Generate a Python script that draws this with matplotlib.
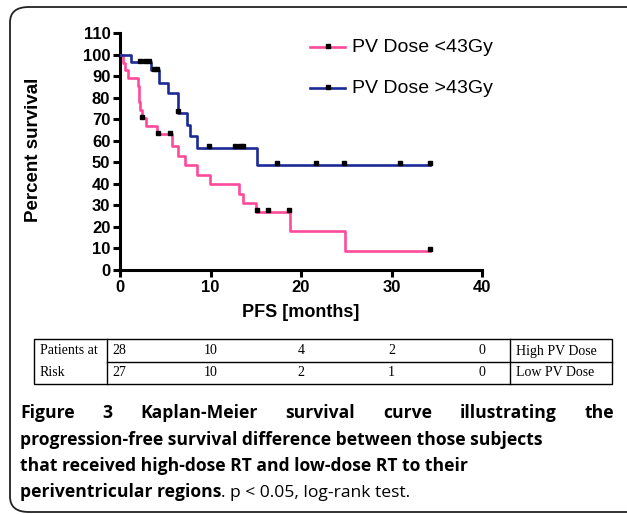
import matplotlib
matplotlib.use("Agg")
import matplotlib.pyplot as plt
from matplotlib.lines import Line2D
from matplotlib.patches import FancyBboxPatch, Rectangle

W, H = 627, 514

# low PV dose (<43Gy) curve
low_t = [0, 0.35, 0.5, 0.85, 1.95, 2.05, 2.15, 2.25, 2.4, 2.87, 4.05, 5.7, 6.45, 7.2, 8.5, 9.95, 13.15, 13.6, 15.05, 18.8, 24.9, 34.3]
low_s = [100, 96.3, 92.6, 88.9, 85.2, 81.5, 77.8, 74.1, 70.4, 66.7, 63.0, 57.5, 53.0, 48.7, 44.2, 39.8, 35.3, 31.0, 26.9, 17.9, 9.0, 9.0]
low_cens_t = [2.4, 4.2, 5.5, 15.1, 16.3, 18.7, 34.3]
low_cens_s = [70.4, 63.0, 63.0, 26.9, 26.9, 26.9, 9.0]

# high PV dose (>43Gy) curve
high_t = [0, 1.18, 3.39, 4.35, 5.34, 6.45, 7.37, 7.73, 8.47, 15.1, 34.25]
high_s = [100, 96.4, 92.6, 87.0, 82.2, 72.8, 67.3, 62.0, 56.8, 48.9, 48.9]
high_cens_t = [2.2, 2.8, 3.2, 3.8, 4.05, 6.45, 9.87, 12.7, 13.3, 13.56, 17.3, 21.7, 24.75, 30.9, 34.25]
high_cens_s = [96.4, 96.4, 96.4, 92.6, 92.6, 72.8, 56.8, 56.8, 56.8, 56.8, 48.9, 48.9, 48.9, 48.9, 48.9]

labels = ["PV Dose <43Gy", "PV Dose >43Gy"]
risk_times = [0, 10, 20, 30, 40]
risk_high = [28, 10, 4, 2, 0]
risk_low = [27, 10, 2, 1, 0]

pink = "#ff4a9c"
blue = "#1b2a96"


def fx(px):
    return px / W


def fy(py):
    return 1 - py / H


fig = plt.figure(figsize=(W / 100, H / 100), dpi=100)
ax = fig.add_axes([fx(120), fy(270), fx(482) - fx(120), fy(33) - fy(270)])

ax.step(low_t, low_s, where="post", color=pink, lw=1.9, zorder=3)
ax.step(high_t, high_s, where="post", color=blue, lw=1.9, zorder=3)
ax.plot(low_cens_t, [s + 0.8 for s in low_cens_s], "s", color="black", ms=2.5, zorder=4)
ax.plot(high_cens_t, [s + 0.8 for s in high_cens_s], "s", color="black", ms=2.5, zorder=4)

ax.set_xlim(0, 40)
ax.set_ylim(0, 110)
ax.set_xticks(range(0, 41, 10))
ax.set_yticks(range(0, 111, 10))
for side in ["top", "right"]:
    ax.spines[side].set_visible(False)
for side in ["left", "bottom"]:
    ax.spines[side].set_linewidth(2.2)
ax.tick_params(width=2.2, length=5, labelsize=12, pad=2)
for lab in ax.get_xticklabels() + ax.get_yticklabels():
    lab.set_fontweight("bold")
    lab.set_family("Liberation Sans")
ax.set_xlabel("PFS [months]", fontsize=13, fontweight="bold", family="Liberation Sans", labelpad=7)
fig.text(fx(33), fy(150), "Percent survival", rotation=90, ha="center", va="center",
         fontsize=13.5, fontweight="bold", family="Liberation Sans")

# legend
for i, (lab, col) in enumerate(zip(labels, [pink, blue])):
    yy = fy(47 + 41 * i)
    fig.add_artist(Line2D([fx(310), fx(345)], [yy, yy], color=col, lw=1.9))
    fig.add_artist(Line2D([fx(327.5)], [yy + 1.2 / H], marker="s", ms=2.5, color="black"))
    fig.text(fx(352), yy, lab, va="center", ha="left", fontsize=14, family="Liberation Sans")

# patients-at-risk table
tb_kw = dict(fontsize=10, family="Liberation Serif", va="center")
fig.add_artist(Rectangle((fx(34), fy(384)), fx(612) - fx(34), fy(339) - fy(384),
                         fill=False, lw=1.0, edgecolor="black"))
fig.add_artist(Line2D([fx(107), fx(612)], [fy(362), fy(362)], color="black", lw=1.0))
for xv in [107, 510]:
    fig.add_artist(Line2D([fx(xv), fx(xv)], [fy(339), fy(384)], color="black", lw=1.0))
fig.text(fx(40), fy(351), "Patients at", **tb_kw)
fig.text(fx(40), fy(373), "Risk", **tb_kw)
disp = ax.transData
for i, t in enumerate(risk_times):
    xpix = disp.transform((t, 0))[0]
    if i == 0:
        fig.text(fx(112), fy(351), str(risk_high[i]), ha="left", **tb_kw)
        fig.text(fx(112), fy(373), str(risk_low[i]), ha="left", **tb_kw)
    else:
        fig.text(xpix / W, fy(351), str(risk_high[i]), ha="center", **tb_kw)
        fig.text(xpix / W, fy(373), str(risk_low[i]), ha="center", **tb_kw)
fig.text(fx(516), fy(351), "High PV Dose", **tb_kw)
fig.text(fx(516), fy(373), "Low PV Dose", **tb_kw)

# frame
fig.add_artist(FancyBboxPatch((fx(10), fy(512)), fx(700) - fx(10), fy(7) - fy(512),
                              boxstyle="round,pad=0,rounding_size=0.03",
                              fill=False, lw=1.3, edgecolor="#222222",
                              transform=fig.transFigure, clip_on=False))

# caption
cap_kw = dict(fontsize=12.6, family="Open Sans", va="baseline")
r = fig.canvas.get_renderer()
words = ["Figure", "3", "Kaplan-Meier", "survival", "curve", "illustrating", "the"]
arts = [fig.text(0, fy(418), w, fontweight="bold", **cap_kw) for w in words]
widths = [a.get_window_extent(r).width for a in arts]
left, right = 20, 614
gap = (right - left - sum(widths)) / (len(words) - 1)
x = left
for a, w in zip(arts, widths):
    a.set_x(fx(x))
    x += w + gap

fig.text(fx(20), fy(445), "progression-free survival difference between those subjects",
         fontweight="bold", **cap_kw)
fig.text(fx(20), fy(471), "that received high-dose RT and low-dose RT to their",
         fontweight="bold", **cap_kw)
b = fig.text(fx(20), fy(497), "periventricular regions", fontweight="bold", **cap_kw)
bw = b.get_window_extent(r).width
fig.text(fx(20 + bw), fy(497), ". p < 0.05, log-rank test.", **cap_kw)

fig.savefig("out.png", dpi=100)
